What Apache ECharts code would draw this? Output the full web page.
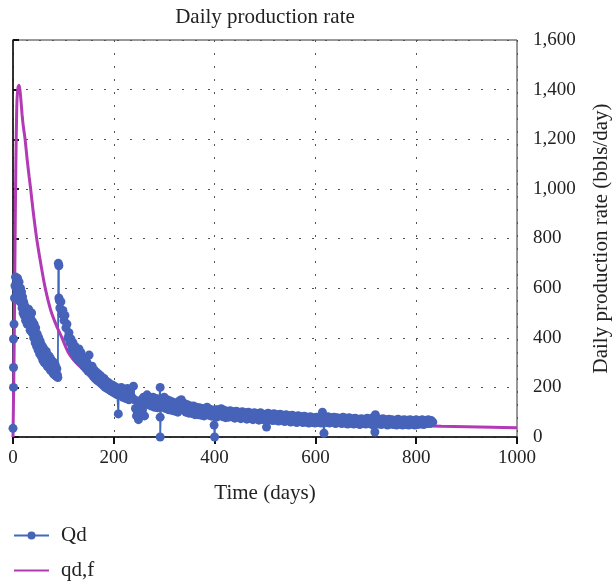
<!DOCTYPE html>
<html>
<head>
<meta charset="utf-8">
<script src="https://cdn.jsdelivr.net/npm/echarts@6/dist/echarts.min.js"></script>
<style>html,body{margin:0;padding:0;background:#fff}#c{width:612px;height:584px}</style>
</head>
<body>
<div id="c"></div>
<script>
var titleText = 'Daily production rate';
var xName = 'Time (days)';
var yName = 'Daily production rate (bbls/day)';
var seriesNames = ['Qd', 'qd,f'];
var xTicks = [0, 200, 400, 600, 800, 1000];
var yTicks = [0, 200, 400, 600, 800, 1000, 1200, 1400, 1600];

// Measured daily production (day, bbls/day)
var qdEarly = [[0,35],[1,200],[1,280],[1,395],[2,455],[3,560],[4,610],[5,645],[6,600],[7,635],[8,580],[9,640],[10,610],[11,570],[12,625],[13,590],[14,545],[15,600],[16,555],[17,585],[18,520],[19,565],[20,500],[21,545],[22,490],[23,530],[24,505],[25,470],[26,520],[27,480],[28,455],[29,505],[30,470],[31,515],[32,450],[33,490],[34,430],[35,480],[36,445],[37,500],[38,420],[39,465],[40,430],[41,400],[42,455],[43,410],[44,380],[45,440],[46,395],[47,365],[48,415],[49,375],[50,350],[51,400],[52,360],[53,335],[54,385],[55,345],[56,325],[57,370],[58,340],[59,310],[60,360],[61,330],[62,300],[63,350],[64,320],[65,295],[66,345],[67,310],[68,285],[69,330],[70,305],[71,280],[72,325],[73,295],[74,270],[75,315],[76,285],[77,265],[78,305],[79,280],[80,255],[81,300],[82,270],[83,250],[84,290],[85,262],[86,245],[87,275],[88,250],[89,240],[90,700],[91,690],[91,560]];
var qdMid = [[92,550],[93,520],[95,545],[97,495],[99,510],[101,470],[103,490],[105,440],[107,455],[109,400],[111,420],[113,380],[115,395],[117,355],[119,380],[121,340],[123,365],[125,325],[127,350],[129,310],[131,355],[133,320],[135,340],[137,300],[139,320],[141,285],[143,310],[145,275],[147,300],[149,265],[151,330],[153,280],[155,255],[157,285],[159,245],[161,270],[163,235],[165,262],[167,228],[169,255],[171,222],[173,248],[175,215],[177,240],[179,208],[181,235],[183,200],[185,225],[187,195],[189,220],[191,190],[193,212],[195,185],[197,210],[199,180],[201,205],[203,175],[205,200],[207,170],[209,93],[210,195]];
var qdLate1 = [[212,170],[215,200],[218,160],[221,190],[224,155],[227,195],[230,150],[233,185],[236,160],[239,205],[241,150],[243,115],[245,85],[247,100],[249,70],[251,130],[253,95],[255,150],[257,110],[259,160],[261,85],[263,150],[266,170],[269,130],[272,160],[275,125],[278,160],[281,120],[284,155],[287,118],[290,150],[292,200],[292,80],[292,0],[294,150],[297,120],[300,160],[303,115],[306,150],[309,110],[312,145],[315,108],[318,140],[321,105],[324,135],[327,100],[330,145],[334,150],[337,118],[340,135],[343,100],[346,130],[349,96],[352,125],[355,95],[358,125],[361,90],[364,120],[367,90],[370,118],[373,88],[376,115],[379,85],[382,115],[385,120],[388,88],[391,112],[394,84],[397,108],[399,48],[400,0],[402,110]];
var qdLate2 = [[404,80],[407,110],[410,88],[413,114],[416,82],[419,108],[422,78],[425,104],[428,80],[431,106],[434,82],[437,102],[440,76],[443,104],[446,80],[449,100],[452,74],[455,102],[458,78],[461,98],[464,72],[467,100],[470,76],[473,96],[476,70],[479,98],[482,74],[485,94],[488,68],[491,98],[494,72],[497,92],[500,68],[503,40],[506,96],[509,70],[512,92],[515,66],[518,94],[521,68],[524,90],[527,64],[530,92],[533,68],[536,88],[539,62],[542,90],[545,66],[548,86],[551,60],[554,88],[557,64],[560,84],[563,58],[566,86],[569,62],[572,82],[575,58],[578,84],[581,60],[584,80],[587,56],[590,82],[593,60],[596,78],[599,56],[602,80],[605,58],[608,76],[611,56],[614,100],[617,15],[619,78],[622,58],[625,82],[628,56],[631,78],[634,60],[637,80],[640,54],[643,78],[646,58],[649,76],[652,54],[655,80],[658,56],[661,76],[664,52],[667,78],[670,56],[673,74],[676,52],[679,76],[682,54],[685,72],[688,50],[691,74],[694,54],[697,72],[700,52],[703,76],[706,54],[709,72],[712,50],[715,80],[718,20],[719,90],[722,72],[725,52],[728,72],[731,50],[734,74],[737,54],[740,70],[743,48],[746,72],[749,52],[752,70],[755,50],[758,68],[761,48],[764,72],[767,52],[770,68],[773,48],[776,70],[779,50],[782,68],[785,48],[788,70],[791,52],[794,66],[797,48],[800,70],[803,50],[806,66],[809,52],[812,70],[815,50],[818,66],[821,54],[824,70],[827,54],[830,66],[833,60]];

// Fitted curve (day, bbls/day)
var qdfCurve = [[0,0],[1,150],[2,300],[3,520],[4,760],[5,980],[6,1150],[7,1280],[8,1360],[10,1410],[12,1418],[14,1395],[16,1350],[18,1300],[20,1260],[22,1230],[24,1200],[28,1120],[32,1050],[35,1000],[40,910],[47,800],[55,700],[64,600],[75,510],[86,450],[97,400],[110,340],[125,300],[144,263],[165,225],[187,200],[214,174],[254,150],[300,130],[350,112],[402,95],[450,86],[500,78],[550,70],[614,61],[654,55],[700,51],[750,48],[808,45],[850,43],[900,41],[950,39],[1000,37]];

var qdData = qdEarly.concat(qdMid, qdLate1, qdLate2);

var FONT = 'Liberation Serif';
var BLUE = '#4663B9';
var PURPLE = '#B23AB5';
var chart = echarts.init(document.getElementById('c'), null, {renderer: 'canvas'});
var dotted = {color: '#555', width: 1, type: [2, 11]};
chart.setOption({
  animation: false,
  backgroundColor: '#fff',
  graphic: [{
    type: 'text', x: 265, y: 7,
    style: {text: titleText, font: '21px "' + FONT + '"', fill: '#222', textAlign: 'center', textVerticalAlign: 'top'}
  }],
  grid: {left: 13, right: 95, top: 40, bottom: 147, show: true, borderColor: '#333', borderWidth: 1,
    containLabel: false, outerBoundsMode: 'none'},
  legend: {
    orient: 'vertical', left: 13, top: 525, padding: 0, itemWidth: 35, itemHeight: 10, itemGap: 14,
    textStyle: {fontFamily: FONT, fontSize: 21, color: '#222', padding: [0, 0, 0, 7]},
    data: [
      {name: seriesNames[0]},
      {name: seriesNames[1], icon: 'path://M0,0 L35,0 L35,2 L0,2 Z'}
    ]
  },
  xAxis: {
    type: 'value', min: xTicks[0], max: xTicks[xTicks.length - 1], interval: 200,
    name: xName, nameLocation: 'middle', nameGap: 46,
    nameTextStyle: {fontFamily: FONT, fontSize: 21, color: '#222'},
    axisLine: {show: true, lineStyle: {color: '#111', width: 1.5}},
    axisTick: {show: true, inside: false, length: 7, lineStyle: {color: '#111', width: 2}},
    axisLabel: {fontFamily: FONT, fontSize: 19, color: '#222', margin: 12,
      formatter: function (v) { return String(v); }},
    splitLine: {show: true, lineStyle: dotted}
  },
  yAxis: {
    type: 'value', position: 'right', min: yTicks[0], max: yTicks[yTicks.length - 1], interval: 200,
    name: yName, nameLocation: 'middle', nameGap: 74, nameRotate: 90,
    nameTextStyle: {fontFamily: FONT, fontSize: 21, color: '#222'},
    axisLine: {show: true, lineStyle: {color: '#111', width: 1.5}},
    axisTick: {show: true, inside: false, length: 6, lineStyle: {color: '#111', width: 2}},
    axisLabel: {fontFamily: FONT, fontSize: 19, color: '#222', margin: 16,
      formatter: function (v) { return v.toLocaleString('en-US'); }},
    splitLine: {show: true, lineStyle: dotted}
  },
  series: [{
    name: seriesNames[0], type: 'line', data: qdData,
    symbol: 'circle', symbolSize: 9, showAllSymbol: true,
    itemStyle: {color: BLUE},
    lineStyle: {color: '#3F6AC0', width: 1.8}
  }, {
    name: seriesNames[1], type: 'line', data: qdfCurve,
    symbol: 'none', smooth: 0.3,
    itemStyle: {color: PURPLE},
    lineStyle: {color: PURPLE, width: 3}
  }]
});
</script>
</body>
</html>
